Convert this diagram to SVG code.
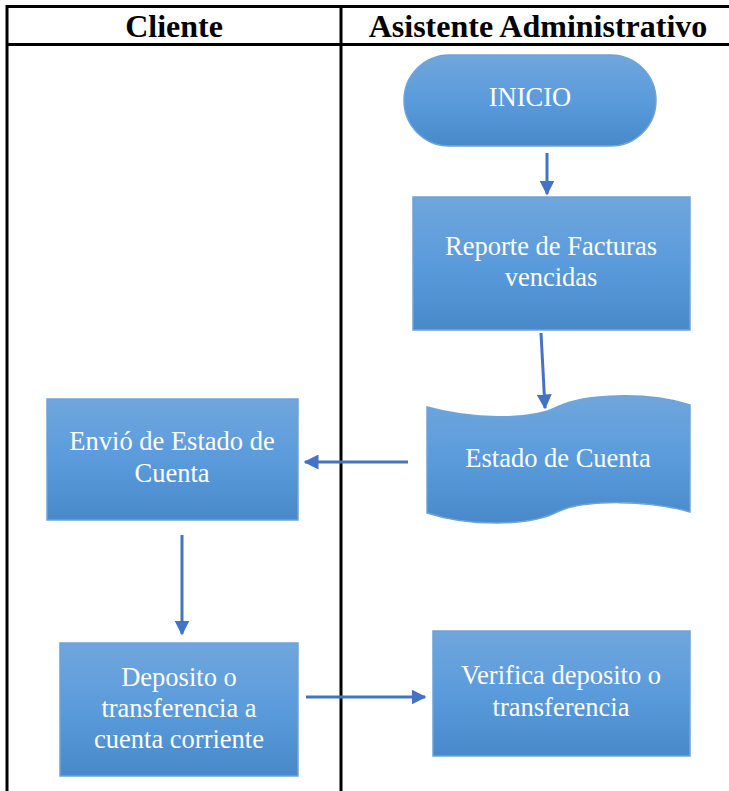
<svg xmlns="http://www.w3.org/2000/svg" width="729" height="791" viewBox="0 0 729 791">
<defs>
<linearGradient id="g" x1="0" y1="0" x2="0" y2="1">
<stop offset="0" stop-color="#70a6dc"/>
<stop offset="0.5" stop-color="#5a9bdc"/>
<stop offset="1" stop-color="#4889ca"/>
</linearGradient>
<marker id="ah" markerWidth="5" markerHeight="5" refX="4.5" refY="2.5" orient="auto" markerUnits="strokeWidth">
<path d="M0,0 L5,2.5 L0,5 Z" fill="#4472c4"/>
</marker>
<style>
.shape{fill:url(#g);stroke:#6ea3d8;stroke-width:1.5}
.t{font-family:'Liberation Serif','Tinos','DejaVu Serif',serif;font-size:26.5px;fill:#ffffff;text-anchor:middle}
.h{font-family:'Liberation Serif','Tinos','DejaVu Serif',serif;font-size:32px;font-weight:bold;fill:#000;text-anchor:middle}
.grid{stroke:#000;stroke-width:3;fill:none}
.c{stroke:#4472c4;stroke-width:3;fill:none;marker-end:url(#ah)}
</style>
</defs>
<rect width="729" height="791" fill="#fff"/>
<g id="table">
<line class="grid" x1="7" y1="6.5" x2="729" y2="6.5"/>
<line class="grid" x1="7" y1="44.5" x2="729" y2="44.5"/>
<line class="grid" x1="7" y1="5" x2="7" y2="791"/>
<line class="grid" x1="341" y1="5" x2="341" y2="791"/>
<text class="h" x="174" y="37">Cliente</text>
<text class="h" x="538" y="37">Asistente Administrativo</text>
</g>
<g id="connectors">
<line class="c" x1="547" y1="153" x2="547" y2="194"/>
<line class="c" x1="541" y1="333" x2="545" y2="408"/>
<line class="c" x1="408" y1="462" x2="305" y2="462"/>
<line class="c" x1="182" y1="535" x2="182" y2="634"/>
<line class="c" x1="306" y1="697" x2="425" y2="697"/>
</g>
<g id="inicio">
<rect class="shape" x="404" y="55" width="252" height="91" rx="45.5" ry="45.5"/>
<text class="t" x="530" y="106">INICIO</text>
</g>
<g id="reporte">
<rect class="shape" x="413" y="197" width="277" height="133"/>
<text class="t" x="551" y="255">Reporte de Facturas</text>
<text class="t" x="551" y="286">vencidas</text>
</g>
<g id="estado">
<path class="shape" d="M427,407 C470,419 530,421 557,407 C585,393 650,392 690,405 L690,512 C650,500 585,499 557,512 C530,526 470,527 427,513 Z"/>
<text class="t" x="558" y="467">Estado de Cuenta</text>
</g>
<g id="envio">
<rect class="shape" x="47" y="399" width="251" height="121"/>
<text class="t" x="172" y="450">Envió de Estado de</text>
<text class="t" x="172" y="482">Cuenta</text>
</g>
<g id="deposito">
<rect class="shape" x="60" y="643" width="238" height="133"/>
<text class="t" x="179" y="686">Deposito o</text>
<text class="t" x="179" y="717">transferencia a</text>
<text class="t" x="179" y="748">cuenta corriente</text>
</g>
<g id="verifica">
<rect class="shape" x="433" y="631" width="257" height="125"/>
<text class="t" x="561" y="684">Verifica deposito o</text>
<text class="t" x="561" y="716">transferencia</text>
</g>
</svg>
